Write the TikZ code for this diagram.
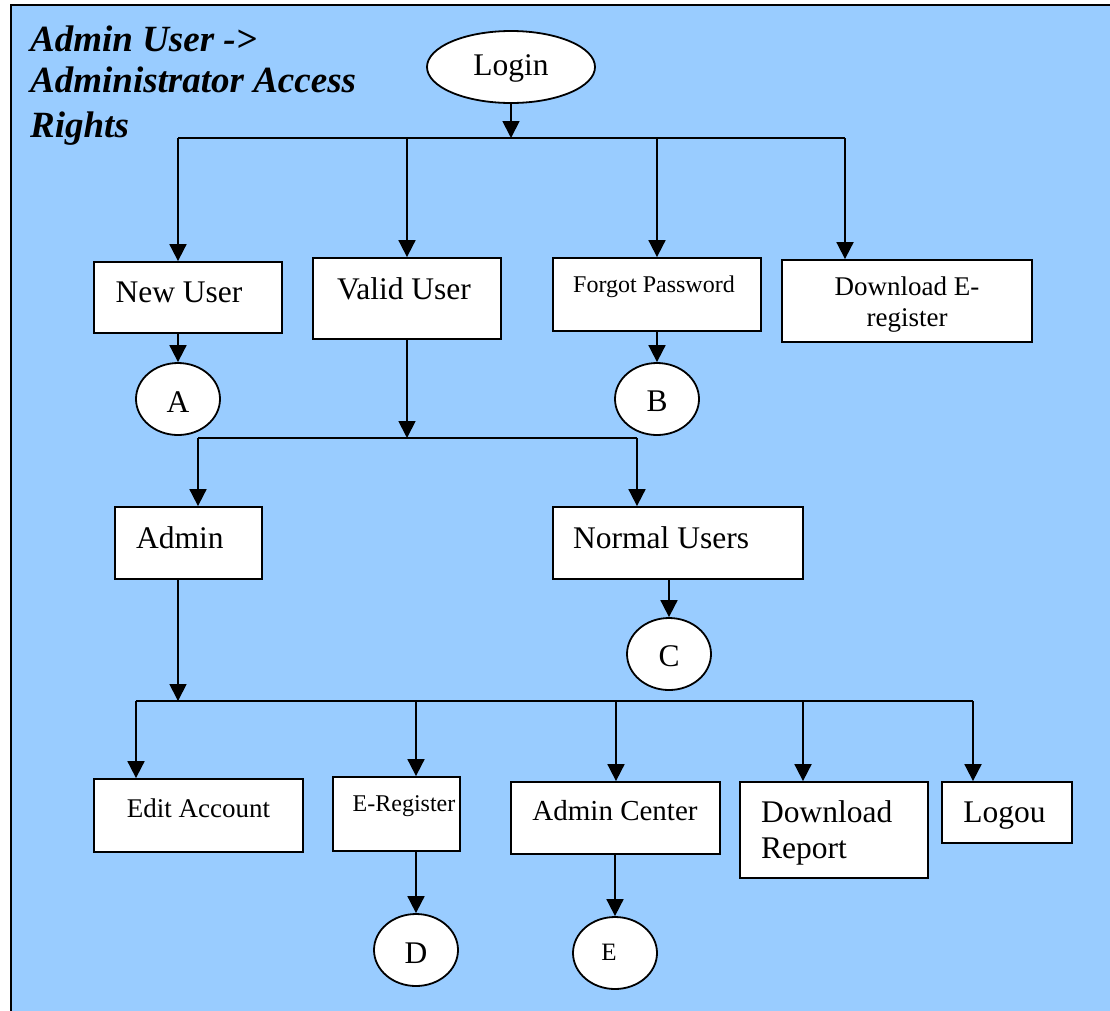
\documentclass[tikz,border=0pt]{standalone}
\usepackage{fontspec}
\setmainfont{Liberation Serif}
\usetikzlibrary{arrows.meta,shapes.geometric}
\definecolor{panel}{HTML}{99CCFF}
\begin{document}
\begin{tikzpicture}[x=1pt,y=-1pt,
  box/.style={draw=black,fill=white,line width=1.8pt,inner sep=0pt,rectangle},
  oval/.style={draw=black,fill=white,line width=1.8pt,inner sep=0pt,ellipse,
    minimum width=84pt,minimum height=72pt},
  link/.style={line width=1.8pt},
  arr/.style={link,-{Triangle[length=17pt,width=17pt]}},
  txt/.style={anchor=base,inner sep=0pt,font=\fontsize{31.5}{37}\selectfont},
  txtl/.style={txt,anchor=base west},
  title/.style={anchor=base west,inner sep=0pt,
    font=\fontsize{37}{43}\selectfont\bfseries\itshape},
]
\useasboundingbox (0,0) rectangle (1110,1010);
\fill[white] (0,0) rectangle (1110,1010);
\begin{scope}
  \clip (0,0) rectangle (1110,1010);
  \draw[line width=2.5pt,fill=panel] (11,5) rectangle (1130,1030);
\end{scope}

% heading
\node[title] (h1) at (30,51) {Admin User ->};
\node[title] (h2) at (30,92) {Administrator Access};
\node[title] (h3) at (30,137) {Rights};

% top level
\node[oval,minimum width=168pt] (login) at (511,67) {};
\node[txt] (login-t) at (511,75) {Login};

\node[box,minimum width=188pt,minimum height=71pt] (newuser) at (188,297.5) {};
\node[txt] (newuser-t) at (179,302) {New User};
\node[box,minimum width=188pt,minimum height=81pt] (validuser) at (407,298.5) {};
\node[txt] (validuser-t) at (404,299) {Valid User};
\node[box,minimum width=208pt,minimum height=73pt] (forgot) at (657,294.5) {};
\node[txt,font=\fontsize{24}{29}\selectfont] (forgot-t) at (654,292) {Forgot Password};
\node[box,minimum width=250pt,minimum height=82pt] (dle) at (907,301) {};
\node[txt,font=\fontsize{27}{31}\selectfont] (dle-t1) at (907,295) {Download E-};
\node[txt,font=\fontsize{27}{31}\selectfont] (dle-t2) at (907,326) {register};

\node[oval] (cA) at (178,399) {};
\node[txt] (cA-t) at (178,412) {A};
\node[oval] (cB) at (657,399) {};
\node[txt] (cB-t) at (657,411) {B};

% second level
\node[box,minimum width=147pt,minimum height=72pt] (admin) at (188.5,543) {};
\node[txtl] (admin-t) at (136,548) {Admin};
\node[box,minimum width=250pt,minimum height=72pt] (normal) at (678,543) {};
\node[txtl] (normal-t) at (573,548) {Normal Users};
\node[oval] (cC) at (669,654) {};
\node[txt] (cC-t) at (669,666) {C};

% admin functions
\node[box,minimum width=209pt,minimum height=73pt] (editacc) at (198.5,815.5) {};
\node[txt,font=\fontsize{27}{31}\selectfont] (editacc-t) at (198.5,817) {Edit Account};
\node[box,minimum width=127pt,minimum height=74pt] (ereg) at (396.5,814) {};
\node[txt,font=\fontsize{24}{29}\selectfont] (ereg-t) at (404,811) {E-Register};
\node[box,minimum width=209pt,minimum height=72pt] (acenter) at (615.5,818) {};
\node[txt,font=\fontsize{29}{34}\selectfont] (acenter-t) at (615,820) {Admin Center};
\node[box,minimum width=188pt,minimum height=96pt] (dlrep) at (834,830) {};
\node[txtl] (dlrep-t1) at (761,822) {Download};
\node[txtl] (dlrep-t2) at (761,858) {Report};
\node[box,minimum width=130pt,minimum height=61pt] (logou) at (1007,812.5) {};
\node[txt] (logou-t) at (1004.5,822) {Logou};

\node[oval] (cD) at (416,950) {};
\node[txt] (cD-t) at (416,963) {D};
\node[oval] (cE) at (615,953) {};
\node[txt,font=\fontsize{25}{30}\selectfont] (cE-t) at (609,960) {E};

% first branching
\coordinate (t0) at (511,138);
\coordinate (t1) at (178,138);
\coordinate (t4) at (845,138);
\draw[link] (t1) -- (t4);
\draw[arr] (login) -- (t0);
\draw[arr] (t1) -- (t1 |- newuser.north);
\draw[arr] (validuser.north |- t0) -- (validuser.north);
\draw[arr] (forgot.north |- t0) -- (forgot.north);
\draw[arr] (t4) -- (t4 |- dle.north);
\draw[arr] (cA.north |- newuser.south) -- (cA.north);
\draw[arr] (forgot.south) -- (cB.north);

% valid user branching
\coordinate (m0) at (407,438);
\coordinate (m1) at (198,438);
\coordinate (m2) at (637,438);
\draw[arr] (validuser.south) -- (m0);
\draw[link] (m1) -- (m2);
\draw[arr] (m1) -- (m1 |- admin.north);
\draw[arr] (m2) -- (m2 |- normal.north);
\draw[arr] (cC.north |- normal.south) -- (cC.north);

% admin branching
\coordinate (u0) at (178,701);
\coordinate (u1) at (136,701);
\coordinate (u2) at (416,701);
\coordinate (u3) at (616,701);
\coordinate (u4) at (803,701);
\coordinate (u5) at (973,701);
\draw[arr] (u0 |- admin.south) -- (u0);
\draw[link] (u1) -- (u5);
\draw[arr] (u1) -- (u1 |- editacc.north);
\draw[arr] (u2) -- (u2 |- ereg.north);
\draw[arr] (u3) -- (u3 |- acenter.north);
\draw[arr] (u4) -- (u4 |- dlrep.north);
\draw[arr] (u5) -- (u5 |- logou.north);
\draw[arr] (cD.north |- ereg.south) -- (cD.north);
\draw[arr] (cE.north |- acenter.south) -- (cE.north);
\end{tikzpicture}
\end{document}
